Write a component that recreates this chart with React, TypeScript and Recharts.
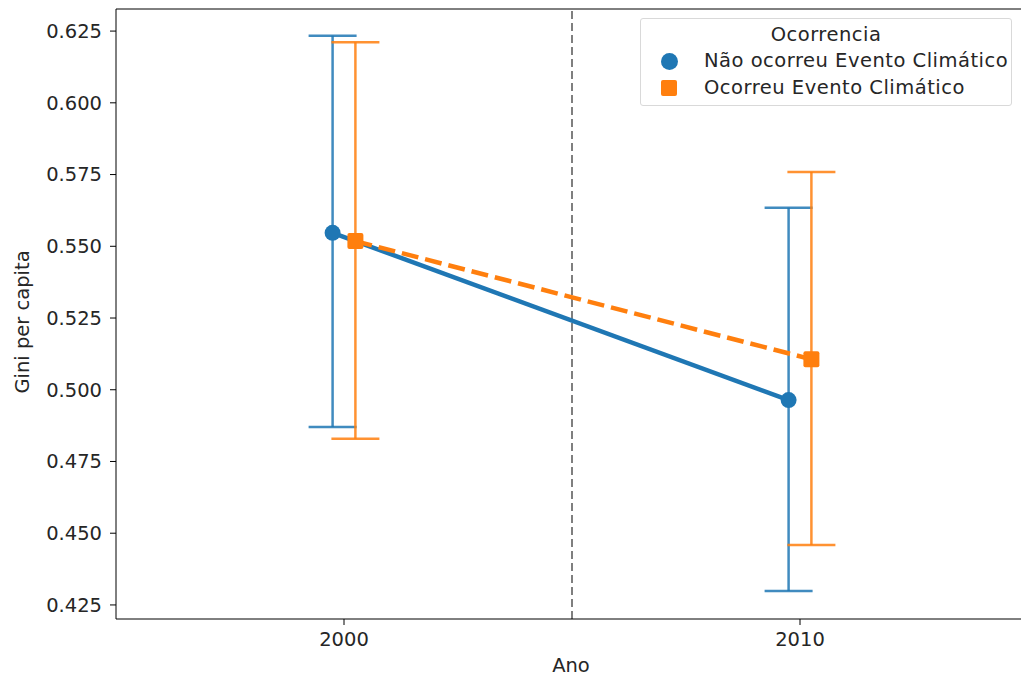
import {
  ComposedChart,
  Line,
  XAxis,
  YAxis,
  ErrorBar,
  ReferenceLine,
} from 'recharts';

const BLUE = '#1f77b4';
const ORANGE = '#ff7f0e';
const TEXT = '#262626';
const FONT = '"DejaVu Sans", sans-serif';
const FS = 19.5;

// values (95% CI)
const years = [2000, 2010];
const naoMean = [0.5547, 0.4964];
const naoLow = [0.487, 0.4299];
const naoHigh = [0.6234, 0.5634];
const ocoMean = [0.5518, 0.5106];
const ocoLow = [0.4829, 0.4459];
const ocoHigh = [0.6211, 0.5759];
const yTicks = [0.425, 0.45, 0.475, 0.5, 0.525, 0.55, 0.575, 0.6, 0.625];
const xTicks = [2000, 2010];

const X_DOMAIN = [1995, 2015];
const Y_DOMAIN = [0.4201, 0.6327];

// seaborn dodge, in year units
const DODGE = 0.25;

function buildSeries(mean: number[], low: number[], high: number[], shift: number) {
  return years.map((year, i) => ({
    x: year + shift,
    y: mean[i],
    err: [mean[i] - low[i], high[i] - mean[i]],
  }));
}

const naoData = buildSeries(naoMean, naoLow, naoHigh, -DODGE);
const ocoData = buildSeries(ocoMean, ocoLow, ocoHigh, DODGE);

const CircleDot = (props: any) => {
  const { cx, cy, index } = props;
  return <circle key={`c-${index}`} cx={cx} cy={cy} r={8} fill={BLUE} />;
};

const SquareDot = (props: any) => {
  const { cx, cy, index } = props;
  return (
    <rect key={`s-${index}`} x={cx - 8} y={cy - 8} width={16} height={16} rx={2} fill={ORANGE} />
  );
};

const tickStyle = { fontFamily: FONT, fontSize: FS, fill: TEXT };

const YLabel = (props: any) => {
  const { viewBox } = props;
  const cy = viewBox.y + viewBox.height / 2 + 8;
  return (
    <text
      x={22}
      y={cy}
      transform={`rotate(-90, 22, ${cy})`}
      textAnchor="middle"
      dominantBaseline="central"
      fontFamily={FONT}
      fontSize={FS}
      fill={TEXT}
    >
      Gini per capita
    </text>
  );
};

const XLabel = () => (
  <text
    x={571}
    y={665}
    textAnchor="middle"
    dominantBaseline="central"
    fontFamily={FONT}
    fontSize={FS}
    fill={TEXT}
  >
    Ano
  </text>
);

export default function App() {
  return (
    <div style={{ position: 'absolute', left: 0, top: 0, width: 1021, height: 675, background: '#fff', overflow: 'hidden' }}>
      {/* the reference figure is cropped on the right, so the plot runs past the edge */}
      <ComposedChart
        width={1021}
        height={675}
        margin={{ top: 9, right: -7, bottom: 0, left: 0 }}
        style={{ overflow: 'hidden' }}
      >
        <XAxis
          dataKey="x"
          type="number"
          domain={X_DOMAIN}
          ticks={xTicks}
          allowDataOverflow
          height={56}
          stroke="#000"
          tickSize={6}
          tickMargin={7}
          tick={tickStyle}
          label={<XLabel />}
        />
        <YAxis
          type="number"
          domain={Y_DOMAIN}
          ticks={yTicks}
          allowDataOverflow
          width={116}
          stroke="#000"
          tickSize={6}
          tickMargin={8}
          tick={tickStyle}
          tickFormatter={(v: number) => v.toFixed(3)}
          label={<YLabel />}
        />
        {/* top spine */}
        <ReferenceLine y={Y_DOMAIN[1]} stroke="#000" strokeWidth={1} />
        <ReferenceLine x={2005} stroke="#7f7f7f" strokeWidth={2} strokeDasharray="8 4" />
        <Line
          data={naoData}
          dataKey="y"
          stroke={BLUE}
          strokeWidth={4.5}
          dot={CircleDot}
          activeDot={false}
          isAnimationActive={false}
        >
          <ErrorBar dataKey="err" direction="y" width={24} stroke={BLUE} strokeWidth={2.5} strokeOpacity={0.85} />
        </Line>
        <Line
          data={ocoData}
          dataKey="y"
          stroke={ORANGE}
          strokeWidth={4.5}
          strokeDasharray="17 7"
          dot={SquareDot}
          activeDot={false}
          isAnimationActive={false}
        >
          <ErrorBar dataKey="err" direction="y" width={24} stroke={ORANGE} strokeWidth={2.5} strokeOpacity={0.85} />
        </Line>
      </ComposedChart>
      <div
        style={{
          position: 'absolute',
          left: 640,
          top: 18,
          width: 372,
          height: 88,
          boxSizing: 'border-box',
          border: '1px solid #d9d9d9',
          borderRadius: 3,
          background: 'rgba(255,255,255,0.8)',
          fontFamily: FONT,
          fontSize: FS,
          lineHeight: 1,
          letterSpacing: 0.5,
          color: TEXT,
        }}
      >
        <div style={{ position: 'absolute', left: 0, right: 0, top: 6, textAlign: 'center' }}>Ocorrencia</div>
        <div style={{ position: 'absolute', left: 20, top: 34, width: 17, height: 17, borderRadius: '50%', background: BLUE }} />
        <div style={{ position: 'absolute', left: 63, top: 32 }}>Não ocorreu Evento Climático</div>
        <div style={{ position: 'absolute', left: 20, top: 61, width: 16, height: 16, borderRadius: 2, background: ORANGE }} />
        <div style={{ position: 'absolute', left: 63, top: 59 }}>Ocorreu Evento Climático</div>
      </div>
    </div>
  );
}
